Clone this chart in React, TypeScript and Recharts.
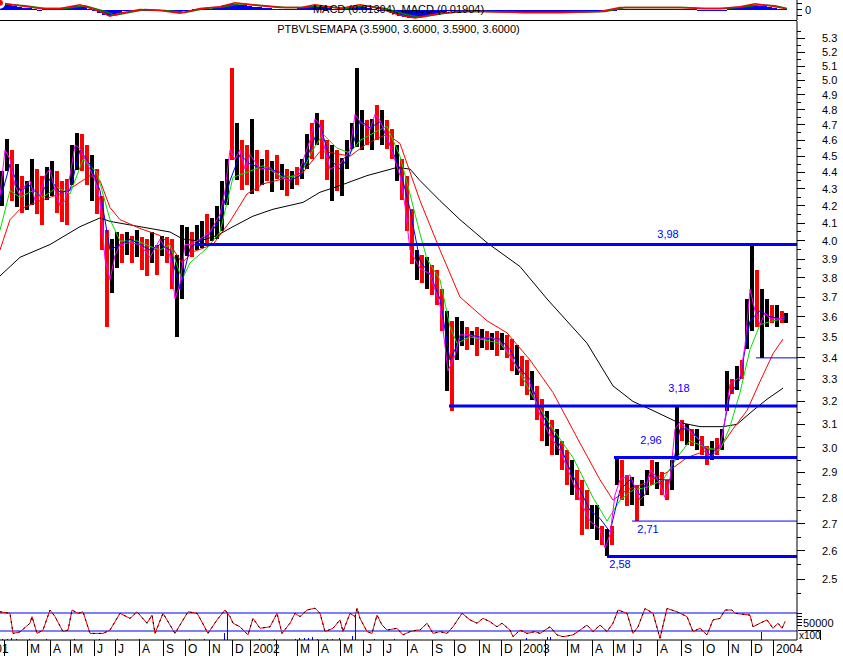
import React from 'react';
import {
  ComposedChart,
  Bar,
  Line,
  XAxis,
  YAxis,
  ReferenceLine,
  ReferenceDot,
  Cell,
} from 'recharts';

const FONT = "'Liberation Sans', Arial, Helvetica, sans-serif";
const X_DOMAIN: [number, number] = [-24, 797];
const CHART_W = 867;
const AXIS_W = 46;

// daily bars sampled by session: [session, high, low, up(1)/down(0)]
const bars: [number, number, number, number][] = [
  [2, 4.41, 4.2, 1], [7, 4.61, 4.41, 1], [12, 4.54, 4.23, 0], [17, 4.45, 4.19, 1], [22, 4.38, 4.16, 0],
  [27, 4.35, 4.18, 1], [32, 4.48, 4.2, 1], [37, 4.42, 4.15, 0], [42, 4.38, 4.09, 0], [47, 4.43, 4.23, 1],
  [52, 4.47, 4.26, 1], [57, 4.41, 4.16, 0], [62, 4.35, 4.11, 0], [67, 4.36, 4.09, 0], [72, 4.57, 4.32, 1],
  [77, 4.65, 4.42, 1], [82, 4.64, 4.41, 0], [87, 4.57, 4.32, 0], [92, 4.51, 4.23, 1], [97, 4.42, 4.15, 0],
  [102, 4.26, 3.95, 0], [107, 4.06, 3.55, 0], [112, 4.01, 3.72, 1], [117, 4.05, 3.85, 1], [122, 4.04, 3.88, 0],
  [127, 4.05, 3.92, 1], [132, 4.03, 3.88, 0], [137, 4.06, 3.91, 1], [142, 4.02, 3.84, 0], [147, 4.01, 3.81, 0],
  [152, 4.05, 3.88, 1], [157, 3.98, 3.82, 0], [162, 4.03, 3.92, 1], [167, 4.02, 3.88, 0], [172, 4.01, 3.74, 0],
  [177, 3.92, 3.5, 1], [182, 4.09, 3.69, 1], [187, 4.08, 3.92, 1], [192, 4.05, 3.91, 0], [197, 4.09, 3.95, 1],
  [202, 4.11, 3.96, 1], [207, 4.15, 3.98, 0], [212, 4.13, 4.0, 1], [217, 4.2, 4.01, 1], [222, 4.35, 4.06, 1],
  [227, 4.48, 4.2, 1], [232, 5.09, 4.48, 0], [237, 4.71, 4.35, 1], [242, 4.6, 4.29, 0], [247, 4.57, 4.32, 0],
  [252, 4.74, 4.27, 1], [257, 4.54, 4.29, 0], [262, 4.48, 4.32, 1], [267, 4.54, 4.35, 0], [272, 4.47, 4.28, 1],
  [277, 4.51, 4.36, 0], [282, 4.45, 4.29, 1], [287, 4.42, 4.26, 0], [292, 4.41, 4.3, 1], [297, 4.43, 4.32, 0],
  [302, 4.48, 4.36, 1], [307, 4.64, 4.42, 1], [312, 4.71, 4.48, 0], [317, 4.78, 4.57, 1], [322, 4.73, 4.48, 0],
  [327, 4.6, 4.35, 0], [332, 4.57, 4.23, 1], [337, 4.54, 4.29, 0], [342, 4.49, 4.26, 1], [347, 4.6, 4.42, 1],
  [352, 4.71, 4.54, 1], [357, 5.09, 4.56, 1], [362, 4.8, 4.54, 1], [367, 4.73, 4.57, 0], [372, 4.74, 4.54, 1],
  [377, 4.83, 4.6, 0], [382, 4.8, 4.57, 1], [387, 4.73, 4.54, 0], [392, 4.67, 4.48, 0], [397, 4.57, 4.35, 1],
  [402, 4.48, 4.23, 0], [407, 4.38, 4.06, 0], [412, 4.18, 3.87, 0], [417, 3.95, 3.79, 1], [422, 3.92, 3.77, 0],
  [427, 3.91, 3.74, 1], [432, 3.87, 3.71, 0], [437, 3.84, 3.66, 0], [442, 3.74, 3.53, 0], [447, 3.63, 3.25, 1],
  [452, 3.58, 3.16, 0], [457, 3.6, 3.39, 1], [462, 3.58, 3.46, 1], [467, 3.55, 3.44, 0], [472, 3.53, 3.46, 1],
  [477, 3.55, 3.41, 0], [482, 3.54, 3.45, 1], [487, 3.53, 3.44, 0], [492, 3.52, 3.44, 1], [497, 3.53, 3.41, 0],
  [502, 3.52, 3.44, 1], [507, 3.51, 3.4, 0], [512, 3.49, 3.34, 0], [517, 3.46, 3.32, 1], [522, 3.41, 3.27, 0],
  [527, 3.39, 3.23, 0], [532, 3.34, 3.21, 1], [537, 3.27, 3.12, 0], [542, 3.21, 3.03, 0], [547, 3.16, 3.01, 1],
  [552, 3.12, 2.97, 0], [557, 3.08, 2.97, 1], [562, 3.03, 2.91, 0], [567, 2.99, 2.85, 0], [572, 2.95, 2.81, 1],
  [577, 2.91, 2.79, 0], [582, 2.87, 2.66, 0], [587, 2.83, 2.68, 0], [592, 2.77, 2.68, 1], [597, 2.77, 2.64, 1],
  [602, 2.69, 2.62, 0], [607, 2.68, 2.58, 1], [612, 2.69, 2.62, 0], [617, 2.96, 2.85, 1], [622, 2.95, 2.79, 0],
  [627, 2.89, 2.77, 0], [632, 2.88, 2.77, 1], [637, 2.85, 2.71, 0], [642, 2.87, 2.77, 1], [647, 2.91, 2.81, 1],
  [652, 2.95, 2.85, 0], [657, 2.94, 2.83, 1], [662, 2.9, 2.81, 0], [667, 2.87, 2.79, 0], [672, 2.95, 2.83, 1],
  [677, 3.18, 2.95, 1], [682, 3.12, 3.03, 0], [687, 3.1, 3.01, 1], [692, 3.08, 3.01, 0], [697, 3.08, 2.99, 1],
  [702, 3.05, 2.97, 0], [707, 3.01, 2.93, 0], [712, 3.03, 2.95, 1], [717, 3.04, 2.97, 0], [722, 3.08, 2.99, 1],
  [727, 3.34, 3.16, 1], [732, 3.3, 3.23, 0], [737, 3.36, 3.25, 1], [742, 3.39, 3.3, 0], [747, 3.69, 3.44, 1],
  [752, 3.98, 3.53, 1], [757, 3.84, 3.55, 0], [762, 3.74, 3.4, 1], [767, 3.69, 3.55, 1], [772, 3.66, 3.57, 0],
  [777, 3.66, 3.55, 1], [782, 3.63, 3.57, 0], [786, 3.62, 3.57, 1],
];

// moving averages: [session, price]
const maFast: [number, number][] = [
  [0, 4.26], [5, 4.54], [10, 4.48], [15, 4.32], [20, 4.26], [25, 4.32], [30, 4.35], [35, 4.23], [40, 4.26],
  [45, 4.38], [50, 4.42], [55, 4.29], [60, 4.2], [65, 4.23], [70, 4.38], [75, 4.57], [80, 4.55], [85, 4.48],
  [90, 4.42], [95, 4.35], [100, 4.23], [105, 3.9], [110, 3.79], [115, 3.92], [120, 3.98], [130, 3.99],
  [140, 3.98], [150, 3.91], [160, 4.01], [170, 3.92], [175, 3.69], [180, 3.77], [185, 3.98], [190, 3.98],
  [200, 4.01], [210, 4.05], [220, 4.15], [225, 4.29], [230, 4.54], [235, 4.48], [240, 4.54], [245, 4.42],
  [250, 4.51], [260, 4.42], [270, 4.43], [280, 4.37], [290, 4.35], [300, 4.42], [310, 4.6], [315, 4.74],
  [320, 4.7], [325, 4.54], [330, 4.42], [340, 4.45], [350, 4.54], [355, 4.77], [360, 4.72], [370, 4.67],
  [375, 4.77], [380, 4.73], [390, 4.57], [400, 4.38], [405, 4.2], [410, 3.95], [420, 3.85], [430, 3.82],
  [440, 3.66], [448, 3.34], [455, 3.41], [460, 3.51], [470, 3.51], [480, 3.49], [490, 3.5], [500, 3.48],
  [510, 3.41], [520, 3.33], [530, 3.28], [540, 3.14], [550, 3.05], [560, 2.99], [570, 2.89], [580, 2.79],
  [590, 2.71], [600, 2.68], [605, 2.61], [610, 2.66], [615, 2.81], [620, 2.87], [630, 2.89], [640, 2.79],
  [645, 2.81], [650, 2.91], [655, 2.89], [660, 2.85], [665, 2.8], [670, 2.87], [675, 3.08], [680, 3.11],
  [690, 3.07], [700, 3.03], [710, 2.96], [720, 3.0], [725, 3.12], [730, 3.28], [740, 3.31], [745, 3.46],
  [750, 3.74], [755, 3.63], [760, 3.56], [765, 3.62], [770, 3.59], [780, 3.59], [785, 3.6],
];

const maShort: [number, number][] = [
  [0, 4.23], [10, 4.45], [20, 4.29], [30, 4.32], [40, 4.26], [50, 4.36], [60, 4.28], [70, 4.29], [80, 4.54],
  [90, 4.45], [100, 4.29], [110, 3.95], [120, 3.98], [130, 4.01], [140, 3.98], [150, 3.95], [160, 3.98],
  [170, 3.95], [180, 3.74], [190, 3.96], [200, 4.0], [210, 4.04], [220, 4.12], [230, 4.35], [240, 4.51],
  [250, 4.45], [260, 4.43], [270, 4.42], [280, 4.4], [290, 4.35], [300, 4.38], [310, 4.54], [320, 4.7],
  [330, 4.48], [340, 4.42], [350, 4.51], [360, 4.73], [370, 4.68], [380, 4.72], [390, 4.57], [400, 4.42],
  [410, 4.18], [420, 3.89], [430, 3.82], [440, 3.69], [450, 3.39], [460, 3.49], [470, 3.51], [480, 3.5],
  [490, 3.49], [500, 3.49], [510, 3.44], [520, 3.35], [530, 3.3], [540, 3.16], [550, 3.08], [560, 3.01],
  [570, 2.91], [580, 2.83], [590, 2.75], [600, 2.72], [610, 2.67], [620, 2.83], [630, 2.87], [640, 2.81],
  [650, 2.89], [660, 2.87], [670, 2.87], [680, 3.08], [690, 3.08], [700, 3.03], [710, 2.97], [720, 3.01],
  [730, 3.23], [740, 3.3], [750, 3.58], [760, 3.63], [770, 3.6], [780, 3.59], [785, 3.59],
];

const maMid: [number, number][] = [
  [0, 4.06], [10, 4.29], [20, 4.25], [33, 4.29], [43, 4.25], [57, 4.31], [70, 4.27], [83, 4.48], [97, 4.4],
  [110, 4.12], [120, 4.0], [137, 4.0], [150, 3.97], [160, 3.95], [170, 3.98], [182, 3.79], [190, 3.88],
  [207, 3.96], [220, 4.05], [233, 4.37], [247, 4.4], [263, 4.44], [283, 4.37], [300, 4.38], [313, 4.54],
  [323, 4.64], [337, 4.55], [350, 4.52], [360, 4.6], [377, 4.66], [387, 4.69], [400, 4.5], [410, 4.27],
  [420, 4.04], [427, 3.9], [440, 3.79], [450, 3.55], [457, 3.47], [470, 3.5], [500, 3.47], [513, 3.39],
  [533, 3.22], [553, 3.08], [573, 2.96], [593, 2.8], [607, 2.71], [620, 2.79], [633, 2.83], [647, 2.84],
  [663, 2.87], [677, 2.96], [690, 3.03], [707, 3.0], [720, 2.99], [730, 3.09], [740, 3.24], [750, 3.44],
  [760, 3.56], [773, 3.58], [785, 3.59],
];

const maLong: [number, number][] = [
  [0, 3.95], [10, 4.12], [20, 4.18], [40, 4.23], [60, 4.27], [70, 4.3], [90, 4.38], [100, 4.35], [110, 4.19],
  [120, 4.12], [140, 4.07], [160, 4.03], [170, 3.98], [182, 3.88], [193, 3.94], [213, 3.98], [230, 4.11],
  [247, 4.27], [263, 4.33], [283, 4.36], [303, 4.4], [320, 4.53], [333, 4.52], [350, 4.5], [367, 4.58],
  [387, 4.64], [400, 4.58], [420, 4.23], [440, 3.95], [460, 3.7], [487, 3.58], [507, 3.52], [530, 3.39],
  [553, 3.24], [580, 3.02], [600, 2.87], [613, 2.79], [627, 2.83], [647, 2.86], [667, 2.9], [687, 2.96],
  [707, 2.99], [720, 3.0], [733, 3.08], [747, 3.16], [760, 3.29], [773, 3.42], [783, 3.49],
];

const ma200: [number, number][] = [
  [0, 3.81], [20, 3.91], [50, 3.98], [80, 4.08], [100, 4.13], [110, 4.11], [140, 4.08], [170, 4.05],
  [183, 4.01], [200, 4.0], [217, 4.03], [233, 4.08], [253, 4.14], [273, 4.18], [303, 4.22], [320, 4.28],
  [340, 4.32], [367, 4.38], [397, 4.43], [410, 4.42], [420, 4.35], [440, 4.23], [460, 4.12], [487, 3.99],
  [520, 3.86], [547, 3.69], [587, 3.47], [613, 3.27], [633, 3.2], [653, 3.16], [677, 3.11], [700, 3.09],
  [723, 3.09], [737, 3.1], [753, 3.16], [767, 3.21], [783, 3.26],
];

// support / resistance levels
const levelPrices = [3.98, 3.18, 2.96, 2.71, 2.58, 3.4];
const levelFrom = [195, 449, 614, 632, 607, 756];
const levelTexts = ['3,98', '3,18', '2,96', '2,71', '2,58', ''];
const levelTextAt = [668, 679, 651, 648, 620, 0];

// MACD panel
const macdHist = [
  0.06, 0.07, 0.06, 0.04, 0.03, 0.02, 0.02, 0.01, 0, 0.01,
  0.01, 0.01, 0.01, 0.01, 0.02, 0.04, 0.04, 0.03, 0.01, -0.01,
  -0.03, -0.05, -0.06, -0.05, -0.03, -0.01, 0, 0, -0.01, -0.01,
  -0.01, -0.01, -0.01, -0.01, -0.02, -0.03, -0.03, -0.01, 0, 0.01,
  0.01, 0.01, 0.01, 0.02, 0.03, 0.05, 0.06, 0.06, 0.05, 0.05,
  0.04, 0.03, 0.03, 0.02, 0.02, 0.01, 0.01, 0.01, 0.01, 0.01,
  0.02, 0.03, 0.04, 0.04, 0.03, 0.03, 0.02, 0.01, 0.01, 0.01,
  0.02, 0.03, 0.04, 0.03, 0.02, 0.01, 0, -0.01, -0.02, -0.04,
  -0.06, -0.07, -0.08, -0.08, -0.07, -0.06, -0.05, -0.04, -0.03, -0.02,
  -0.01, -0.01, -0.01, -0.01, -0.01, -0.02, -0.02, -0.02, -0.02, -0.02,
  -0.02, -0.02, -0.02, -0.02, -0.02, -0.02, -0.02, -0.02, -0.02, -0.02,
  -0.02, -0.02, -0.02, -0.02, -0.02, -0.02, -0.02, -0.02, -0.02, -0.02,
  -0.01, -0.01, -0.01, 0, 0.01, 0.01, 0.01, 0.01, 0.01, 0.01,
  0.01, 0.01, 0.01, 0.01, 0.01, 0.01, 0.01, 0.01, 0.01, 0.01,
  0, 0, 0, 0, 0, 0, 0.02, 0.03, 0.03, 0.04,
  0.05, 0.05, 0.04, 0.04, 0.03, 0.02, 0.01, 0.01,
];
const macdLine: [number, number][] = [
  [0, 0.07], [20, 0.04], [40, 0.01], [60, 0.01], [80, 0.05], [100, -0.02], [110, -0.07], [120, -0.04],
  [140, 0], [160, -0.01], [180, -0.04], [200, 0.01], [220, 0.03], [235, 0.07], [260, 0.04], [280, 0.02],
  [300, 0.02], [315, 0.05], [340, 0.01], [360, 0.05], [380, 0.01], [400, -0.06], [415, -0.09], [440, -0.04],
  [460, -0.02], [480, -0.02], [520, -0.03], [560, -0.03], [600, -0.02], [620, 0.02], [640, 0.02],
  [680, 0.02], [700, 0.01], [720, 0.01], [740, 0.03], [755, 0.06], [770, 0.04], [785, 0.01],
];
const macdSignal: [number, number][] = [
  [0, 0.06], [25, 0.04], [45, 0.01], [65, 0.01], [85, 0.04], [105, -0.02], [115, -0.06], [125, -0.04],
  [145, 0], [165, -0.01], [185, -0.03], [205, 0.01], [225, 0.03], [240, 0.06], [265, 0.04], [285, 0.02],
  [305, 0.02], [320, 0.04], [345, 0.01], [365, 0.04], [385, 0.01], [405, -0.05], [420, -0.08], [445, -0.04],
  [465, -0.02], [485, -0.02], [525, -0.03], [565, -0.03], [605, -0.02], [625, 0.02], [645, 0.02],
  [685, 0.02], [705, 0.01], [725, 0.01], [745, 0.03], [760, 0.05], [775, 0.04], [787, 0.01],
];

// lower panel: oscillator and volume (x100)
const osc: [number, number][] = [
  [0, 84], [10, 79], [13, 12], [20, 17], [30, 46], [32, 68], [37, 12], [43, 23], [50, 90], [55, 68],
  [63, 18], [68, 23], [72, 90], [78, 79], [83, 84], [90, 12], [97, 12], [103, 12], [110, 23], [120, 79],
  [130, 62], [137, 84], [147, 46], [152, 73], [155, 12], [163, 79], [175, 12], [180, 40], [188, 84],
  [197, 79], [200, 62], [208, 12], [217, 57], [225, 90], [230, 68], [233, 46], [240, 34], [248, 7],
  [253, 62], [260, 29], [270, 34], [277, 79], [282, 12], [290, 46], [295, 79], [300, 68], [307, 90],
  [315, 96], [320, 79], [325, 18], [333, 29], [340, 57], [343, 18], [350, 79], [355, 68], [357, 96],
  [360, 62], [367, 18], [372, 12], [377, 73], [382, 40], [387, 23], [397, 29], [403, 7], [410, 18],
  [417, 23], [420, 23], [427, 46], [433, 12], [440, 18], [447, 12], [453, 34], [462, 79], [470, 57],
  [477, 46], [483, 62], [490, 51], [497, 34], [502, 46], [510, 23], [513, 1], [520, 23], [527, 12],
  [535, 18], [540, 12], [550, 34], [557, 7], [563, 1], [573, 7], [580, 23], [587, 40], [593, 18],
  [600, 40], [607, 18], [613, 46], [618, 90], [627, 79], [633, 12], [638, 34], [645, 95], [653, 79],
  [660, -4], [667, 95], [677, 84], [687, 68], [693, 18], [700, 29], [707, 7], [713, 57], [720, 62],
  [725, 90], [732, 90], [735, 79], [750, 73], [753, 34], [760, 46], [767, 57], [773, 29], [778, 46],
  [782, 29], [785, 51],
];
const volume: [number, number][] = [
  [3, 5000], [8, 4000], [12, 6000], [17, 3000], [30, 4000], [47, 3000], [75, 5000], [100, 3000],
  [118, 4000], [140, 3000], [190, 5000], [205, 4000], [225, 23000], [228, 93000], [260, 4000],
  [275, 3000], [296, 5000], [300, 8000], [305, 6000], [309, 8000], [313, 10000], [318, 5000],
  [328, 3000], [333, 4000], [340, 6000], [353, 15000], [356, 83000], [375, 4000], [395, 3000],
  [527, 7000], [548, 9000], [551, 9000], [762, 27000],
];

// month separators on the time axis
const monthTicks = [-21, 4, 27, 50, 70, 94, 115, 139, 163, 185, 209, 232, 250, 276, 297, 318, 340, 363,
  383, 407, 432, 454, 479, 501, 520, 545, 567, 592, 613, 633, 657, 681, 703, 728, 751, 773];
const monthLabels = ['2001', '', 'M', 'A', 'M', 'J', 'J', 'A', 'S', 'O', 'N', 'D', '2002', '', 'M', 'A', 'M',
  'J', 'J', 'A', 'S', 'O', 'N', 'D', '2003', '', 'M', 'A', 'M', 'J', 'A', 'S', 'O', 'N', 'D', '2004'];

const priceLabels = [2.5, 2.6, 2.7, 2.8, 2.9, 3.0, 3.1, 3.2, 3.3, 3.4, 3.5, 3.6, 3.7, 3.8, 3.9, 4.0,
  4.1, 4.2, 4.3, 4.4, 4.5, 4.6, 4.7, 4.8, 4.9, 5.0, 5.1, 5.2, 5.3];
const priceTicks = [2.45, ...priceLabels.flatMap((v) => [v, v + 0.05])];

const toPts = (arr: [number, number][]) => arr.map(([s, v]) => ({ s, v }));
const barData = bars.map(([s, hi, lo, up]) => ({ s, range: [lo, hi], up }));
const histData = macdHist.map((v, i) => ({ s: i * 5, v }));
const volData = volume.map(([s, v]) => ({ s, v }));

// crisp vertical bar of fixed pixel width, centred on the session
const stick = (w: number) => (p: any) => {
  if (p.height == null || isNaN(p.y)) return <g />;
  const cx = p.x + p.width / 2;
  const top = Math.min(p.y, p.y + p.height);
  const h = Math.max(1, Math.abs(p.height));
  return (
    <rect
      x={Math.round(cx - w / 2)}
      y={Math.round(top)}
      width={w}
      height={Math.round(h)}
      fill={p.fill}
      shapeRendering='crispEdges'
    />
  );
};

const PriceTick = (props: any) => {
  const { x, y, payload } = props;
  const v = payload.value;
  const major = Math.abs(v * 10 - Math.round(v * 10)) < 0.001;
  return (
    <g>
      <line x1={x} x2={x + (major ? 8 : 4)} y1={y} y2={y} stroke='#000' shapeRendering='crispEdges' />
      {major && (
        <text x={x + 25} y={y + 4} fontSize={11} fontFamily={FONT} fill='#000'>
          {v.toFixed(1)}
        </text>
      )}
    </g>
  );
};

const MacdTick = (props: any) => {
  const { x, y, payload } = props;
  return (
    <g>
      <line x1={x} x2={x + 5} y1={y} y2={y} stroke='#000' shapeRendering='crispEdges' />
      {payload.value === 0 && (
        <text x={x + 8} y={y + 4} fontSize={11} fontFamily={FONT} fill='#000'>
          0
        </text>
      )}
    </g>
  );
};

const VolTick = (props: any) => {
  const { x, y, payload } = props;
  return (
    <g>
      <line x1={x} x2={x + 5} y1={y} y2={y} stroke='#000' shapeRendering='crispEdges' />
      {payload.value === 50000 && (
        <text x={x + 6} y={y + 2} fontSize={11} fontFamily={FONT} fill='#000'>
          50000
        </text>
      )}
    </g>
  );
};

const MonthTick = (props: any) => {
  const { x, y, payload } = props;
  const label = monthLabels[monthTicks.indexOf(payload.value)] || '';
  return (
    <g>
      <line x1={x} x2={x} y1={y} y2={y + 16} stroke='#000' shapeRendering='crispEdges' />
      <text x={x + 3} y={y + 13} fontSize={12} fontFamily={FONT} fill='#000'>
        {label}
      </text>
    </g>
  );
};

const thinLine = { strokeWidth: 1, dot: false, isAnimationActive: false, type: 'linear' as const };

function App() {
  return (
    <div
      style={{
        position: 'relative',
        width: 843,
        height: 656,
        overflow: 'hidden',
        background: '#fff',
        fontFamily: FONT,
      }}
    >
      <style>{'body{margin:0}'}</style>

      {/* MACD strip */}
      <div style={{ position: 'absolute', left: -24, top: 0 }}>
        <ComposedChart width={CHART_W} height={20} data={histData} margin={{ top: 0, right: 0, bottom: 0, left: 0 }}>
          <XAxis type='number' dataKey='s' domain={X_DOMAIN} hide allowDataOverflow />
          <YAxis
            orientation='right'
            width={AXIS_W}
            domain={[-0.11, 0.1]}
            allowDataOverflow
            ticks={[0.06, 0, -0.06]}
            interval={0}
            tick={<MacdTick />}
            tickLine={false}
            tickSize={0}
            tickMargin={0}
            axisLine={{ stroke: '#000' }}
          />
          <Bar dataKey='v' fill='#0000ff' barSize={5} shape={stick(5)} isAnimationActive={false} />
          <Line data={toPts(macdSignal)} dataKey='v' stroke='#008000' {...thinLine} strokeWidth={1.5} />
          <Line data={toPts(macdLine)} dataKey='v' stroke='#ff0000' {...thinLine} strokeWidth={1.5} />
        </ComposedChart>
      </div>
      <div
        style={{
          position: 'absolute',
          left: 0,
          width: 797,
          top: 3,
          textAlign: 'center',
          fontSize: 11,
          color: '#000',
        }}
      >
        MACD (0.01304), MACD (0.01904)
      </div>
      <div style={{ position: 'absolute', left: 0, top: 20, width: 797, height: 1, background: '#000' }} />

      {/* price panel */}
      <div style={{ position: 'absolute', left: -24, top: 21 }}>
        <ComposedChart width={CHART_W} height={583} data={barData} margin={{ top: 0, right: 0, bottom: 0, left: 0 }}>
          <XAxis type='number' dataKey='s' domain={X_DOMAIN} hide allowDataOverflow />
          <YAxis
            orientation='right'
            width={AXIS_W}
            scale='log'
            domain={[2.415, 5.43]}
            allowDataOverflow
            ticks={priceTicks}
            interval={0}
            tick={<PriceTick />}
            tickLine={false}
            tickSize={0}
            tickMargin={0}
            axisLine={{ stroke: '#000' }}
          />
          <Bar dataKey='range' barSize={4} shape={stick(4)} isAnimationActive={false}>
            {barData.map((d, i) => (
              <Cell key={i} fill={d.up ? '#000000' : '#ff0000'} />
            ))}
          </Bar>
          <Line data={toPts(ma200)} dataKey='v' stroke='#000000' {...thinLine} />
          <Line data={toPts(maLong)} dataKey='v' stroke='#ff0000' {...thinLine} />
          <Line data={toPts(maMid)} dataKey='v' stroke='#00e000' {...thinLine} />
          <Line data={toPts(maShort)} dataKey='v' stroke='#0000ff' {...thinLine} />
          <Line data={toPts(maFast)} dataKey='v' stroke='#ff00ff' {...thinLine} />
          {levelPrices.map((p, i) => (
            <ReferenceLine
              key={'lv' + i}
              segment={[
                { x: levelFrom[i], y: p },
                { x: 797, y: p },
              ]}
              stroke='#0000ff'
              strokeWidth={levelTexts[i] === '2,71' || levelTexts[i] === '' ? 1 : 3}
            />
          ))}
          {levelPrices.map((p, i) =>
            levelTexts[i] ? (
              <ReferenceDot
                key={'lb' + i}
                x={levelTextAt[i]}
                y={p}
                r={0}
                stroke='none'
                fill='none'
                label={{
                  value: levelTexts[i],
                  position: p < 2.8 ? 'bottom' : 'top',
                  offset: p < 2.8 ? 4 : p > 3.5 ? 7 : 14,
                  fill: '#0000ff',
                  fontSize: 11,
                  fontFamily: FONT,
                }}
              />
            ) : null
          )}
        </ComposedChart>
      </div>
      <div
        style={{
          position: 'absolute',
          left: 0,
          width: 797,
          top: 23,
          textAlign: 'center',
          fontSize: 11,
          color: '#000',
        }}
      >
        PTBVLSEMAPA (3.5900, 3.6000, 3.5900, 3.6000)
      </div>

      {/* oscillator + volume panel with time axis */}
      <div style={{ position: 'absolute', left: -24, top: 604 }}>
        <ComposedChart width={CHART_W} height={52} data={volData} margin={{ top: 0, right: 0, bottom: 0, left: 0 }}>
          <XAxis
            type='number'
            dataKey='s'
            domain={X_DOMAIN}
            allowDataOverflow
            ticks={monthTicks}
            interval={0}
            height={16}
            tick={<MonthTick />}
            tickLine={false}
            tickSize={0}
            tickMargin={0}
            axisLine={{ stroke: '#000' }}
          />
          <YAxis yAxisId='osc' domain={[-10, 110]} allowDataOverflow hide />
          <YAxis
            yAxisId='vol'
            orientation='right'
            width={AXIS_W}
            domain={[0, 120000]}
            allowDataOverflow
            ticks={[50000, 60000, 70000, 80000, 90000]}
            interval={0}
            tick={<VolTick />}
            tickLine={false}
            tickSize={0}
            tickMargin={0}
            axisLine={{ stroke: '#000' }}
          />
          <ReferenceLine yAxisId='osc' y={80} stroke='#0000ff' />
          <ReferenceLine yAxisId='osc' y={20} stroke='#0000ff' />
          <Bar yAxisId='vol' dataKey='v' fill='#0000ff' barSize={1} shape={stick(1)} isAnimationActive={false} />
          <Line yAxisId='osc' data={toPts(osc)} dataKey='v' stroke='#ff0000' {...thinLine} />
          <Line
            yAxisId='osc'
            data={toPts(osc)}
            dataKey='v'
            stroke='#000000'
            strokeDasharray='2 4'
            {...thinLine}
          />
        </ComposedChart>
      </div>
      <div
        style={{
          position: 'absolute',
          left: 798,
          top: 630,
          width: 21,
          height: 9,
          borderRight: '1px solid #000',
          borderTop: '1px solid #000',
          fontSize: 10,
          lineHeight: '10px',
          paddingLeft: 1,
        }}
      >
        x100
      </div>
    </div>
  );
}

export default App;
